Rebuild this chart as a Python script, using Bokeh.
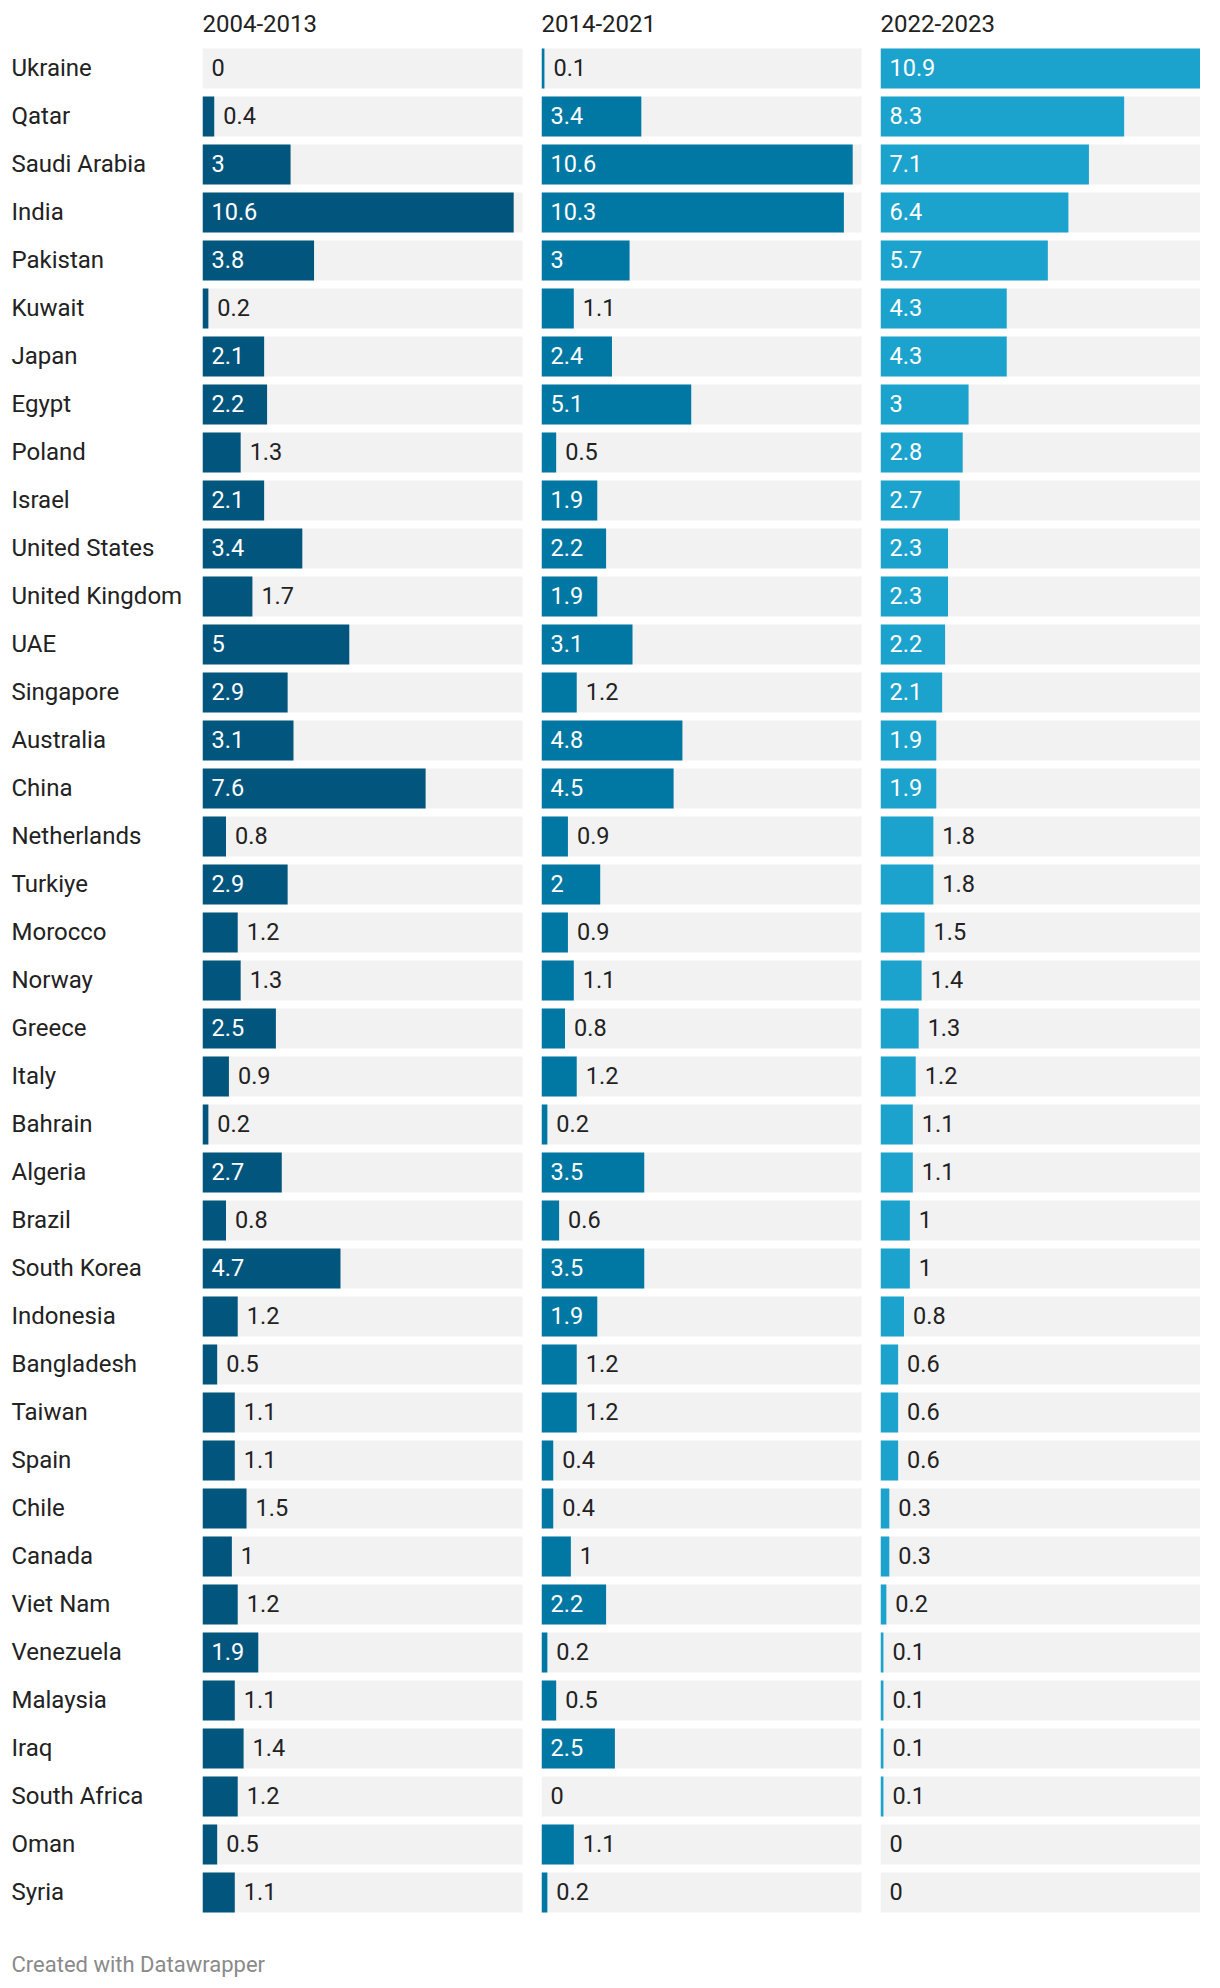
from bokeh.plotting import figure
from bokeh.layouts import row, column
from bokeh.models import Range1d, ColumnDataSource
from bokeh.core.properties import value
from bokeh.embed import file_html
from bokeh.resources import INLINE

countries = ["Ukraine", "Qatar", "Saudi Arabia", "India", "Pakistan", "Kuwait", "Japan", "Egypt",
             "Poland", "Israel", "United States", "United Kingdom", "UAE", "Singapore", "Australia",
             "China", "Netherlands", "Turkiye", "Morocco", "Norway", "Greece", "Italy", "Bahrain",
             "Algeria", "Brazil", "South Korea", "Indonesia", "Bangladesh", "Taiwan", "Spain", "Chile",
             "Canada", "Viet Nam", "Venezuela", "Malaysia", "Iraq", "South Africa", "Oman", "Syria"]

periods = ["2004-2013", "2014-2021", "2022-2023"]

share_2004_2013 = [0, 0.4, 3, 10.6, 3.8, 0.2, 2.1, 2.2, 1.3, 2.1, 3.4, 1.7, 5, 2.9, 3.1, 7.6, 0.8, 2.9,
                   1.2, 1.3, 2.5, 0.9, 0.2, 2.7, 0.8, 4.7, 1.2, 0.5, 1.1, 1.1, 1.5, 1, 1.2, 1.9, 1.1,
                   1.4, 1.2, 0.5, 1.1]
share_2014_2021 = [0.1, 3.4, 10.6, 10.3, 3, 1.1, 2.4, 5.1, 0.5, 1.9, 2.2, 1.9, 3.1, 1.2, 4.8, 4.5, 0.9, 2,
                   0.9, 1.1, 0.8, 1.2, 0.2, 3.5, 0.6, 3.5, 1.9, 1.2, 1.2, 0.4, 0.4, 1, 2.2, 0.2, 0.5,
                   2.5, 0, 1.1, 0.2]
share_2022_2023 = [10.9, 8.3, 7.1, 6.4, 5.7, 4.3, 4.3, 3, 2.8, 2.7, 2.3, 2.3, 2.2, 2.1, 1.9, 1.9, 1.8, 1.8,
                   1.5, 1.4, 1.3, 1.2, 1.1, 1.1, 1, 1, 0.8, 0.6, 0.6, 0.6, 0.3, 0.3, 0.2, 0.1, 0.1,
                   0.1, 0.1, 0, 0]

series = [share_2004_2013, share_2014_2021, share_2022_2023]
colors = ["#02567d", "#0177a3", "#1ba3cd"]

FONT = value("Roboto")
ROW_PX = 48
TOP_PX = 68          # center of first row from top of figure
H_ROWS = 1928
BAR_H = 40 / ROW_PX
MAXV = 10.9
PANEL_PX = 320
SCALE = PANEL_PX / MAXV
fig_widths = [339, 339, 320]
LABEL_W = 202
TOTAL_W = LABEL_W + sum(fig_widths)

y_top = -TOP_PX / ROW_PX
y_bot = (H_ROWS - TOP_PX) / ROW_PX
idx = list(range(len(countries)))


def base_fig(width, x_range):
    f = figure(width=width, height=H_ROWS, x_range=x_range, y_range=Range1d(y_bot, y_top),
               output_backend="svg", toolbar_location=None, min_border=0)
    f.axis.visible = False
    f.grid.visible = False
    f.outline_line_color = None
    f.background_fill_color = "white"
    f.border_fill_color = "white"
    return f


# label column
flab = base_fig(LABEL_W, Range1d(-11, LABEL_W - 11))
flab.text(x=0, y=idx, text=countries, text_font=FONT, text_font_size="24px",
          text_color="#222222", text_baseline="middle", text_align="left", y_offset=-1)

panels = []
for k, (vals, col, title, w) in enumerate(zip(series, colors, periods, fig_widths)):
    f = base_fig(w, Range1d(0, w / SCALE))
    f.hbar(y=idx, left=0, right=MAXV, height=BAR_H, fill_color="#f2f2f2", line_color=None)
    f.hbar(y=idx, left=0, right=vals, height=BAR_H, fill_color=col, line_color=None)
    inside = [v >= 1.85 for v in vals]
    src = ColumnDataSource(dict(
        y=idx,
        x=[0 if ins else v for v, ins in zip(vals, inside)],
        t=[f"{v:g}" for v in vals],
        c=["#ffffff" if ins else "#222222" for ins in inside],
    ))
    f.text(x="x", y="y", text="t", source=src, text_color="c", text_font=FONT,
           text_font_size="23.5px", text_baseline="middle", text_align="left",
           x_offset=9, y_offset=-1)
    f.text(x=[0], y=[(23 - TOP_PX) / ROW_PX], text=[title], text_font=FONT, text_font_size="24px",
           text_color="#222222", text_baseline="middle", text_align="left")
    panels.append(f)

foot = figure(width=TOTAL_W, height=52, x_range=Range1d(0, TOTAL_W),
              y_range=Range1d(52, 0), output_backend="svg", toolbar_location=None, min_border=0)
foot.axis.visible = False
foot.grid.visible = False
foot.outline_line_color = None
foot.text(x=[11], y=[36], text=["Created with Datawrapper"], text_font=FONT, text_font_size="22px",
          text_color="#8a8a8a", text_baseline="middle", text_align="left")

p = column(row(flab, *panels, spacing=0), foot, spacing=0)

open("out.html", "w").write(file_html(p, INLINE))
